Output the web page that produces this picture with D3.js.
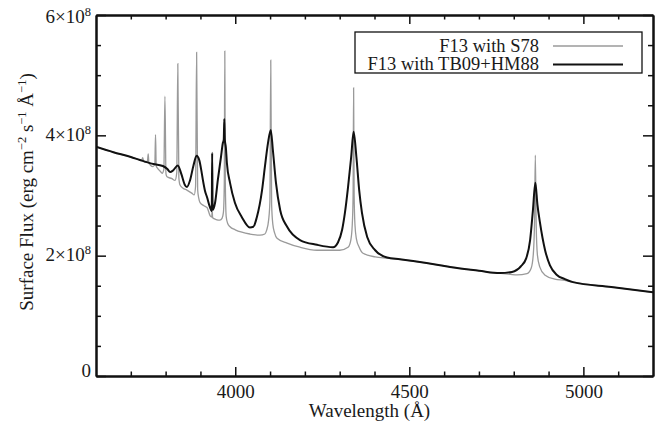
<!DOCTYPE html>
<html>
<head>
<meta charset="utf-8">
<script src="https://cdn.jsdelivr.net/npm/d3@7"></script>
<style>
  body { margin: 0; background: #fff; }
  text { font-family: "Liberation Serif", "DejaVu Serif", serif; fill: #1a1a1a; }
</style>
</head>
<body>
<svg id="chart"></svg>
<script>
// Spectrum of F13 computed with two Stark broadening treatments.
// Wavelength in Angstrom, flux in units of 1e8 erg cm^-2 s^-1 A^-1.

const s78Wave = [3600, 3650, 3700, 3726, 3731, 3734, 3737, 3744, 3748, 3750, 3752, 3757, 3764,
  3769, 3771, 3773, 3777, 3785, 3790, 3795, 3798, 3801, 3804, 3818, 3827, 3832, 3835, 3838,
  3841, 3850, 3861, 3875, 3882, 3886, 3889, 3892, 3895, 3899, 3910, 3919, 3928, 3932.5, 3933.7,
  3935, 3945, 3956, 3962, 3966, 3968.5, 3970, 3971.5, 3974, 3978, 3985, 4000, 4019, 4042, 4071,
  4085, 4090, 4096, 4099.5, 4102, 4104.5, 4108, 4113, 4120, 4149, 4186, 4235, 4300, 4324, 4332,
  4336, 4338.5, 4340, 4341.5, 4344, 4348, 4356, 4367, 4402, 4436, 4473, 4511, 4588, 4617, 4700,
  4752, 4790, 4809, 4838, 4850, 4856, 4859.5, 4862, 4864.5, 4868, 4875, 4889, 4918, 4947, 4970,
  5080, 5200];
const s78Flux = [3.81, 3.72, 3.64, 3.59, 3.58, 3.63, 3.57, 3.55, 3.58, 3.69, 3.54, 3.50, 3.48,
  3.53, 4.01, 3.49, 3.45, 3.40, 3.37, 3.44, 4.65, 3.36, 3.31, 3.28, 3.25, 3.38, 5.19, 3.30,
  3.18, 3.12, 3.09, 3.04, 3.01, 3.15, 5.38, 3.10, 2.96, 2.88, 2.83, 2.80, 2.66, 2.64, 2.76,
  2.63, 2.60, 2.59, 2.62, 2.72, 3.20, 5.40, 3.20, 2.65, 2.54, 2.48, 2.43, 2.39, 2.36, 2.34,
  2.36, 2.42, 2.60, 2.90, 5.25, 2.85, 2.52, 2.38, 2.29, 2.21, 2.14, 2.09, 2.09, 2.14, 2.26,
  2.50, 3.00, 4.79, 3.00, 2.50, 2.28, 2.14, 2.04, 1.98, 1.96, 1.94, 1.91, 1.84, 1.81, 1.75,
  1.71, 1.69, 1.68, 1.70, 1.79, 2.01, 2.50, 3.67, 2.50, 2.01, 1.81, 1.68, 1.61, 1.59, 1.56,
  1.48, 1.39];

const tbWave = [3600, 3650, 3700, 3726, 3760, 3792, 3805, 3813, 3822, 3835, 3845, 3855, 3861,
  3870, 3880, 3889, 3897, 3903, 3907, 3913, 3919, 3927, 3932.5, 3933.7, 3935, 3942, 3950, 3959,
  3964, 3967, 3968.5, 3970, 3973, 3976, 3985, 3999, 4019, 4042, 4052, 4062, 4077, 4085, 4094,
  4102, 4108, 4117, 4129, 4149, 4186, 4235, 4281, 4295, 4307, 4315, 4324, 4333, 4340, 4348,
  4356, 4364, 4379, 4402, 4436, 4473, 4511, 4588, 4617, 4700, 4760, 4795, 4820, 4836, 4847,
  4855, 4862, 4868, 4875, 4890, 4904, 4924, 4947, 4970, 5080, 5200];
const tbFlux = [3.81, 3.72, 3.64, 3.59, 3.53, 3.49, 3.44, 3.39, 3.42, 3.50, 3.36, 3.18, 3.14,
  3.25, 3.50, 3.66, 3.58, 3.40, 3.26, 3.08, 2.97, 2.81, 2.74, 3.71, 2.76, 2.88, 3.26, 3.64,
  3.86, 3.93, 4.27, 3.93, 3.80, 3.54, 3.21, 2.88, 2.64, 2.47, 2.48, 2.64, 3.09, 3.47, 3.87,
  4.09, 3.76, 3.21, 2.76, 2.48, 2.26, 2.18, 2.14, 2.22, 2.43, 2.71, 3.14, 3.64, 4.06, 3.64,
  3.09, 2.71, 2.31, 2.09, 1.97, 1.94, 1.91, 1.84, 1.81, 1.75, 1.71, 1.73, 1.82, 1.96, 2.26,
  2.75, 3.21, 2.85, 2.56, 2.09, 1.84, 1.68, 1.61, 1.56, 1.48, 1.39];

const xMajor = [4000, 4500, 5000];
const xMinor = [3700, 3800, 3900, 4100, 4200, 4300, 4400, 4600, 4700, 4800, 4900, 5100];
const yMajor = [0, 2, 4, 6];
const yMinor = [0.5, 1, 1.5, 2.5, 3, 3.5, 4.5, 5, 5.5];
const legendLabels = ["F13 with S78", "F13 with TB09+HM88"];
const seriesColors = ["#9a9a9a", "#111111"];

const width = 668, height = 430;
const pLeft = 96, pRight = 653, pTop = 15, pBottom = 376;
const fontSize = 19;

const svg = d3.select("#chart").attr("width", width).attr("height", height);

const x = d3.scaleLinear().domain([3600, 5200]).range([pLeft, pRight]);
const y = d3.scaleLinear().domain([0, 6]).range([pBottom, pTop]);

// clip the lines to the frame
svg.append("clipPath").attr("id", "plotClip")
  .append("rect").attr("x", pLeft).attr("y", pTop)
  .attr("width", pRight - pLeft).attr("height", pBottom - pTop);

const line = d3.line()
  .x(d => x(d[0]))
  .y(d => y(d[1]))
  .curve(d3.curveMonotoneX);

const s78 = s78Wave.map((w, i) => [w, s78Flux[i]]);
const tb = tbWave.map((w, i) => [w, tbFlux[i]]);

const plot = svg.append("g").attr("clip-path", "url(#plotClip)");
plot.append("path").datum(s78)
  .attr("d", line).attr("fill", "none")
  .attr("stroke", seriesColors[0]).attr("stroke-width", 1.3);
plot.append("path").datum(tb)
  .attr("d", line).attr("fill", "none")
  .attr("stroke", seriesColors[1]).attr("stroke-width", 2)
  .attr("stroke-linejoin", "round");

// axes: ticks point inward on all four sides
function styleAxis(g) {
  g.selectAll("path.domain").attr("stroke", "#111").attr("stroke-width", 2);
  g.selectAll(".tick line").attr("stroke", "#111").attr("stroke-width", 1.5);
}

svg.append("g").attr("transform", `translate(0,${pBottom})`)
  .call(d3.axisBottom(x).tickValues(xMajor).tickSize(-9).tickSizeOuter(0).tickFormat(d3.format("d")))
  .call(styleAxis)
  .call(g => g.selectAll("text")
    .attr("font-size", fontSize).attr("font-family", null).attr("fill", "#1a1a1a")
    .attr("y", 22).attr("dy", null));
svg.append("g").attr("transform", `translate(0,${pBottom})`)
  .call(d3.axisBottom(x).tickValues(xMinor).tickSize(-4.5).tickSizeOuter(0).tickFormat(""))
  .call(styleAxis);

svg.append("g").attr("transform", `translate(0,${pTop})`)
  .call(d3.axisTop(x).tickValues(xMajor).tickSize(-9).tickSizeOuter(0).tickFormat(""))
  .call(styleAxis);
svg.append("g").attr("transform", `translate(0,${pTop})`)
  .call(d3.axisTop(x).tickValues(xMinor).tickSize(-4.5).tickSizeOuter(0).tickFormat(""))
  .call(styleAxis);

svg.append("g").attr("transform", `translate(${pLeft},0)`)
  .call(d3.axisLeft(y).tickValues(yMajor).tickSize(-10).tickSizeOuter(0).tickFormat(""))
  .call(styleAxis);
svg.append("g").attr("transform", `translate(${pLeft},0)`)
  .call(d3.axisLeft(y).tickValues(yMinor).tickSize(-5).tickSizeOuter(0).tickFormat(""))
  .call(styleAxis);

svg.append("g").attr("transform", `translate(${pRight},0)`)
  .call(d3.axisRight(y).tickValues(yMajor).tickSize(-10).tickSizeOuter(0).tickFormat(""))
  .call(styleAxis);
svg.append("g").attr("transform", `translate(${pRight},0)`)
  .call(d3.axisRight(y).tickValues(yMinor).tickSize(-5).tickSizeOuter(0).tickFormat(""))
  .call(styleAxis);

// y tick labels like "4×10^8"
const yLab = svg.append("g").selectAll("text")
  .data(yMajor).enter().append("text")
  .attr("x", pLeft - 5)
  .attr("y", d => y(d) + (d === 0 ? 1 : d === 6 ? 8 : 5.5))
  .attr("text-anchor", "end")
  .attr("font-size", fontSize);
yLab.each(function(d) {
  const t = d3.select(this);
  if (d === 0) { t.text("0"); return; }
  t.append("tspan").text(d + "×10");
  t.append("tspan").attr("font-size", 12.5).attr("dy", -7).text("8");
});

// axis titles
svg.append("text")
  .attr("x", (pLeft + pRight) / 2 - 5).attr("y", 417)
  .attr("text-anchor", "middle").attr("font-size", fontSize)
  .text("Wavelength (Å)");

const yTitle = svg.append("text")
  .attr("transform", "translate(33,192) rotate(-90)")
  .attr("text-anchor", "middle").attr("font-size", fontSize);
yTitle.append("tspan").text("Surface Flux (erg cm");
yTitle.append("tspan").attr("font-size", 12.5).attr("dy", -7).text("−2");
yTitle.append("tspan").attr("dy", 7).text(" s");
yTitle.append("tspan").attr("font-size", 12.5).attr("dy", -7).text("−1");
yTitle.append("tspan").attr("dy", 7).text(" Å");
yTitle.append("tspan").attr("font-size", 12.5).attr("dy", -7).text("−1");
yTitle.append("tspan").attr("dy", 7).text(")");

// legend
const legend = svg.append("g");
legend.append("rect")
  .attr("x", 355).attr("y", 32).attr("width", 287).attr("height", 41)
  .attr("fill", "#fff").attr("stroke", "#111").attr("stroke-width", 1.3);
legendLabels.forEach((lab, i) => {
  const ly = 46 + i * 18.5;
  legend.append("text")
    .attr("x", 539).attr("y", ly + 5.5)
    .attr("text-anchor", "end").attr("font-size", 18.5)
    .text(lab);
  legend.append("line")
    .attr("x1", 553).attr("x2", 623).attr("y1", ly).attr("y2", ly)
    .attr("stroke", seriesColors[i]).attr("stroke-width", i === 0 ? 1.3 : 2);
});
</script>
</body>
</html>
